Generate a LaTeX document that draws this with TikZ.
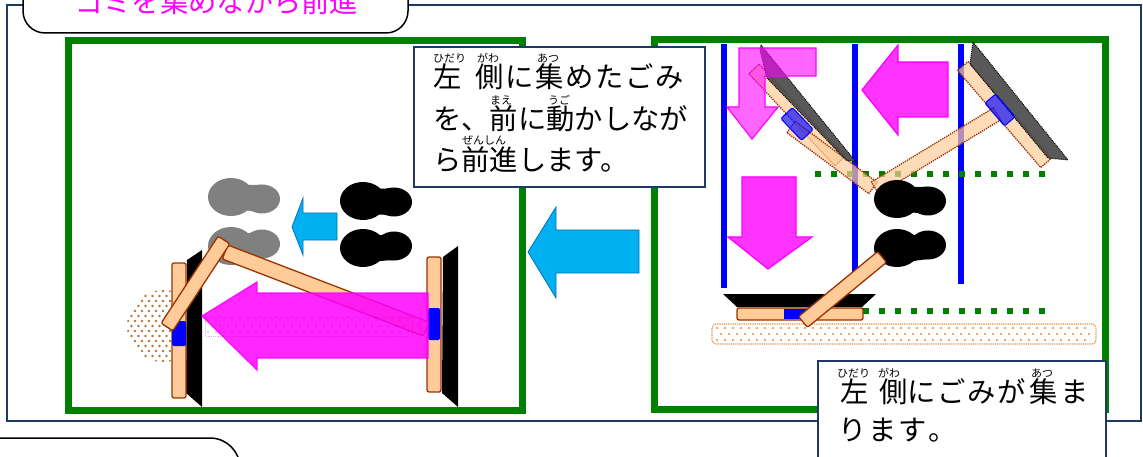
\documentclass[tikz,border=0pt]{standalone}
\usepackage{fontspec}
\newfontfamily\jp{Noto Sans CJK JP}
\usetikzlibrary{calc}
\definecolor{navy}{HTML}{1F3864}
\definecolor{panelgreen}{HTML}{008000}
\definecolor{peach}{HTML}{FFCC99}
\definecolor{woodline}{HTML}{993300}
\definecolor{sky}{HTML}{00B0F0}
\definecolor{skyline}{HTML}{0070C0}
\definecolor{mag}{HTML}{FF00FF}
\definecolor{pink}{HTML}{FF33FF}
\definecolor{dustbrown}{HTML}{B8733A}
\definecolor{dustorange}{HTML}{F08A3C}
\definecolor{shoegray}{HTML}{808080}

\newcommand\mainjp{\jp\fontsize{28.3}{30}\selectfont}
\newcommand\rubyjp{\jp\fontsize{11}{11}\selectfont}
% a straight slab of given half width between two points
\newcommand\slab[3]{($#1!#3!90:#2$) -- ($#2!#3!-90:#1$) -- ($#2!#3!90:#1$) -- ($#1!#3!-90:#2$) -- cycle}
% a shoe print: heel lobe at (#2,#3), toe lobe to the right
\newcommand\shoeprint[4]{%
  \begin{scope}[shift={(#2,#3)}]
    \fill[#1] (0,0) ellipse [x radius=23, y radius=19];
    \fill[#1] (31,#4) ellipse [x radius=18, y radius=14.5];
    \fill[#1] (6,-14) .. controls (16,-12) .. (31,{#4-14}) -- (31,{#4+14}) .. controls (16,13) .. (6,15) -- cycle;
  \end{scope}}

\tikzset{
  panel/.style={draw=panelgreen, line width=7pt},
  frame/.style={draw=navy, line width=2pt},
  tab/.style={draw=black, line width=1.5pt, fill=white},
  tbox/.style={draw=navy, line width=2pt, fill=white},
  txt/.style={anchor=base west, inner sep=0pt, font=\mainjp},
  ruby/.style={anchor=base west, inner sep=0pt, font=\rubyjp},
  wood/.style={fill=peach, draw=woodline, line width=1.3pt, rounded corners=2pt},
  ghostwood/.style={fill=peach, fill opacity=0.7, draw=woodline, densely dotted, line width=1.3pt},
  ghostblade/.style={fill=black!72, fill opacity=0.9, draw=black, densely dotted, line width=1pt},
  ghostblue/.style={fill=blue, fill opacity=0.65, draw=blue, line width=1pt, rounded corners=2pt},
  cleaner/.style={fill=blue},
  blade/.style={fill=black},
  skyarrow/.style={fill=sky, draw=skyline, line width=0.8pt},
  pinkarrow/.style={fill=pink, draw=mag, line width=1.2pt},
  rail/.style={draw=blue, line width=6pt},
  guide/.style={draw=panelgreen, line width=6pt, dash pattern=on 6pt off 10pt},
}

\begin{document}
\begin{tikzpicture}[x=1pt,y=-1pt]
\useasboundingbox (0,0) rectangle (1143,457);
\clip (0,0) rectangle (1143,457);

% outer frame and tabs
\draw[frame] (7,5) rectangle (1141,421);
\draw[tab, rounded corners=22pt] (23,-40) rectangle (408,33);
\node[anchor=base west, inner sep=0pt, font=\mainjp, text=mag] (title) at (75,13) {ゴミを集めながら前進};
\draw[tab, rounded corners=30pt] (-40,438) rectangle (240,520);

% the two panels
\draw[panel] (68,41) rectangle (522,410);
\draw[panel] (654,40) rectangle (1105,409);

% ---------- left panel: pushing the gathered dust forward ----------
\begin{scope}
  \clip (163,326) circle (36pt);
  \foreach \yy in {291,301,...,361} {\foreach \xx in {128,135,...,176} {\fill[dustbrown] (\xx,\yy) circle (1.3pt);}}
  \foreach \yy in {296,306,...,356} {\foreach \xx in {131.5,138.5,...,176} {\fill[dustbrown] (\xx,\yy) circle (1.3pt);}}
\end{scope}
\fill[blade] (187,260) -- (202,250) -- (202,407) -- (186,393) -- cycle;
\fill[blade] (443,257) -- (458,246) -- (458,407) -- (442,393) -- cycle;
\draw[wood] (172,263) rectangle (186,398);
\draw[wood] (427,257) rectangle (441,392);
\fill[cleaner, rounded corners=1.5pt] (172,321) rectangle (186,346);
\fill[cleaner, rounded corners=1.5pt] (428,308) rectangle (440,340);

\shoeprint{shoegray}{231}{197}{2}
\shoeprint{shoegray}{231}{246}{-2}
\shoeprint{black}{363}{201}{1}
\shoeprint{black}{363}{248}{-2}
\draw[skyarrow] (292,227) -- (303,198) -- (303,213) -- (337,213) -- (337,240) -- (303,240) -- (303,255) -- cycle;

\draw[wood] \slab{(225,252)}{(426,329)}{7.5pt};
\draw[pinkarrow, fill=mag, fill opacity=0.85, draw opacity=0.9] (202,316) -- (257,282) -- (257,293) -- (428,293) -- (428,358) -- (257,358) -- (257,370) -- cycle;
\foreach \yy in {320,332} {\foreach \xx in {208,216,...,410} {\fill[mag!70!black, opacity=0.3] (\xx,\yy) circle (1.1pt);}}
\foreach \yy in {326} {\foreach \xx in {212,220,...,410} {\fill[mag!70!black, opacity=0.3] (\xx,\yy) circle (1.1pt);}}
\draw[mag!70!black, densely dotted, opacity=0.3, line width=0.8pt] (205,317) rectangle (412,336);
\draw[wood] \slab{(167,327)}{(224,240)}{7pt};

% arrow between the panels
\draw[skyarrow] (528,252) -- (556,207) -- (556,230) -- (639,230) -- (639,273) -- (556,273) -- (556,298) -- cycle;

% ---------- right panel: gathering dust to the left ----------
\draw[rail] (724,44) -- (724,288);
\draw[rail] (854.5,44) -- (854.5,284);
\draw[rail] (960.5,44) -- (960.5,284);
\draw[guide] (815,174) -- (1050,174);
\draw[guide] (863,311) -- (1050,311);

\draw[dustorange, densely dotted, line width=1.2pt, rounded corners=4pt] (712,324) rectangle (1096,344);
\foreach \yy in {328,340} {\foreach \xx in {717,725,...,1092} {\fill[dustorange] (\xx,\yy) circle (1.2pt);}}
\foreach \yy in {334} {\foreach \xx in {721,729,...,1092} {\fill[dustorange] (\xx,\yy) circle (1.2pt);}}

% earlier broom positions (faded)
\draw[ghostwood] \slab{(754,69)}{(840,161)}{7pt};
\draw[ghostwood] \slab{(791,127)}{(873,188)}{7pt};
\draw[ghostblade] (761,45) -- (856,162) -- (846,160) -- (767,78) -- (760,50) -- cycle;
\draw[ghostblue] \slab{(786.6,113.1)}{(807.4,134.9)}{8pt};

\draw[ghostwood] \slab{(963,66)}{(1046,163)}{7pt};
\draw[ghostwood] \slab{(875,188)}{(997,114)}{7pt};
\draw[ghostblade] (973,42) -- (1068,160) -- (1048,158) -- (970,64) -- cycle;
\draw[ghostblue] \slab{(990.2,98.6)}{(1009.8,121.4)}{7pt};

% movement arrows
\draw[pinkarrow] (862,90) -- (898,45) -- (898,62) -- (948,62) -- (948,117) -- (898,117) -- (898,135) -- cycle;
\draw[pinkarrow] (742,177) -- (796,177) -- (796,237) -- (812,237) -- (768,269) -- (728,237) -- (742,237) -- cycle;
\draw[pinkarrow, fill=mag, fill opacity=0.6] (816,48) -- (739,48) -- (739,107) -- (727,107) -- (752,139) -- (778,107) -- (765,107) -- (765,76) -- (816,76) -- cycle;

\shoeprint{black}{897}{199}{2}
\shoeprint{black}{897}{248}{-3}

% broom in its present position
\fill[blade] (723,294) -- (876,294) -- (862,307) -- (737,307) -- cycle;
\draw[wood] (737,308) rectangle (863,320);
\fill[cleaner] (784,308.7) rectangle (807,319.3);
\draw[wood] \slab{(803,322)}{(882,257)}{7pt};

% ---------- explanations ----------
\draw[tbox] (414,47) rectangle (705,187);
\node[txt] (l1a) at (433,88) {左};
\foreach \c/\x in {側/475,に/505,集/535,め/565,た/595,ご/625,み/655}
  \node[txt] at (\x,88) {\c};
\node[ruby] at (433,63) {ひだり};
\node[ruby] at (477,63) {がわ};
\node[ruby] at (537,63) {あつ};
\node[txt] (l2) at (433,130) {を、前に動かしなが};
\node[ruby] at (490,105) {まえ};
\node[ruby] at (548,105) {うご};
\node[txt] (l3) at (433,171) {ら前進します。};
\node[ruby] at (462,145) {ぜんしん};

\draw[tbox] (818,361) rectangle (1106,480);
\foreach \c/\x in {左/840,側/879,に/907,ご/937,み/967,が/997,集/1029,ま/1060}
  \node[txt] at (\x,402) {\c};
\node[ruby] at (837,377) {ひだり};
\node[ruby] at (878,377) {がわ};
\node[ruby] at (1031,377) {あつ};
\foreach \c/\x in {り/838,ま/868,す/898,。/928}
  \node[txt] at (\x,440) {\c};
\end{tikzpicture}
\end{document}
